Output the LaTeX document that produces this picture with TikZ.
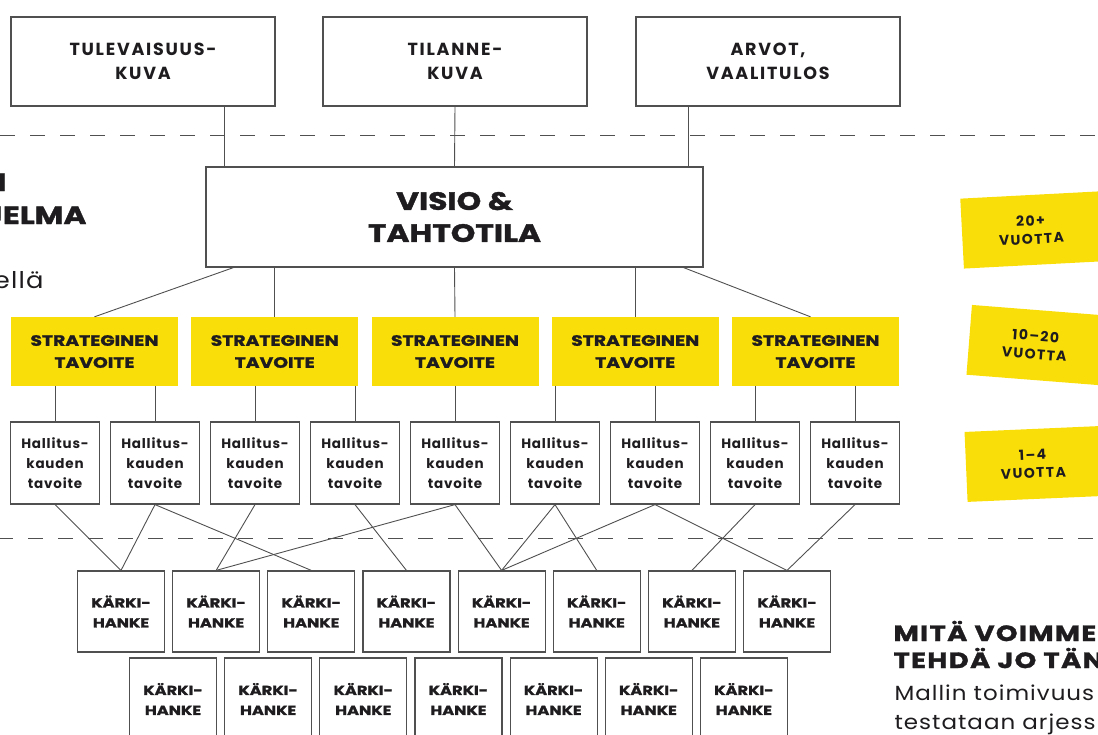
\documentclass[tikz,border=0pt]{standalone}
\usepackage{fontspec}
\setmainfont{Poppins}
\newfontfamily\heavyfont{Poppins}[FakeStretch=1.25, BoldFeatures={FakeBold=1.5}]
\newfontfamily\widefont{Poppins}[FakeStretch=1.12, LetterSpace=5]
\usetikzlibrary{positioning}
\definecolor{tagyellow}{RGB}{249,222,10}
\definecolor{linegray}{RGB}{80,80,80}
\definecolor{inkblack}{RGB}{30,28,30}

\begin{document}
\begin{tikzpicture}[x=1pt, y=-1pt, text=inkblack,
	box/.style={draw=linegray, line width=1.2pt, align=center, inner sep=0pt},
	topbox/.style={box, minimum width=264pt, minimum height=89pt, font=\bfseries\fontsize{17.5}{24}\selectfont\addfontfeature{LetterSpace=10}},
	visiobox/.style={box, minimum width=497pt, minimum height=100pt, font=\heavyfont\bfseries\fontsize{25}{32}\selectfont},
	goal/.style={fill=tagyellow, align=center, inner sep=0pt, minimum width=167pt, minimum height=69pt, font=\heavyfont\bfseries\fontsize{15}{22}\selectfont},
	termbox/.style={box, minimum width=89pt, minimum height=82pt, font=\bfseries\fontsize{13.5}{20}\selectfont\addfontfeature{LetterSpace=6}},
	hanke/.style={box, minimum width=87pt, minimum height=81pt, font=\heavyfont\bfseries\fontsize{13}{20}\selectfont},
	tag/.style={fill=tagyellow, align=center, inner sep=0pt, minimum height=70pt, font=\bfseries\fontsize{14}{18}\selectfont\addfontfeature{LetterSpace=10}},
	link/.style={draw=linegray, line width=0.9pt},
	divider/.style={draw=linegray, line width=1pt, dash pattern=on 15pt off 15pt}]
	\useasboundingbox (0,0) rectangle (1098,734);

	\draw[divider] (0,135) -- (1098,135);
	\draw[divider, dash phase=2pt] (0,538) -- (1098,538);

	\node[topbox] (top-0) at (143,61.5) {TULEVAISUUS-\\KUVA};
	\node[topbox] (top-1) at (455,61.5) {TILANNE-\\KUVA};
	\node[topbox] (top-2) at (768,61.5) {ARVOT,\\VAALITULOS};

	\node[visiobox] (visio) at (454.5,217) {VISIO \&\\TAHTOTILA};

	\foreach \i in {0,...,4}
		\node[goal] (s-\i) at (94.5+180.25*\i,351.5) {STRATEGINEN\\TAVOITE};
	\foreach \i in {0,...,8}
		\node[termbox] (h-\i) at (55+100*\i,463) {Hallitus-\\kauden\\tavoite};
	\foreach \i in {0,...,7}
		\node[hanke] (k-\i) at (121+95.15*\i,611.5) {KÄRKI-\\HANKE};
	\foreach \i in {0,...,6}
		\node[hanke, minimum height=82pt] (kk-\i) at (173+95.15*\i,699) {KÄRKI-\\HANKE};

	\draw[link] ([xshift=81pt]top-0.south) -- ([xshift=81pt]top-0.south |- visio.north);
	\draw[link] (top-1.south) -- (visio.north);
	\draw[link] ([xshift=-80pt]top-2.south) -- ([xshift=-80pt]top-2.south |- visio.north);

	\draw[link] ([xshift=28pt]visio.south west) -- (s-0.north);
	\draw[link] (s-1.north |- visio.south) -- (s-1.north);
	\draw[link] (visio.south) -- (s-2.north);
	\draw[link] (s-3.north |- visio.south) -- (s-3.north);
	\draw[link] ([xshift=-20pt]visio.south east) -- ([xshift=-5pt]s-4.north);

	\foreach \a/\b in {0/0,1/0,2/1,3/1,4/2,5/3,6/3,7/4,8/4}
		\draw[link] (h-\a.north |- s-\b.south) -- (h-\a.north);
	\foreach \a/\b in {0/0,1/0,1/2,2/1,4/1,3/3,4/4,5/4,5/5,6/4,6/7,7/6,8/7}
		\draw[link] (h-\a.south) -- (k-\b.north);

	\node[tag, rotate=3, minimum width=138pt] (tag-0) at (1031,230) {20+\\VUOTTA};
	\node[tag, rotate=-4.5, minimum width=132pt] (tag-1) at (1035,345) {10–20\\VUOTTA};
	\node[tag, rotate=2.5, minimum width=134pt] (tag-2) at (1033,464) {1–4\\VUOTTA};

	\node[anchor=base east, font=\heavyfont\bfseries\fontsize{25}{32}\selectfont] (side-0) at (10,191) {N};
	\node[anchor=base east, font=\heavyfont\bfseries\fontsize{25}{32}\selectfont] (side-1) at (90,224) {JELMA};
	\node[anchor=base east, font=\widefont\fontsize{23}{28}\selectfont] (side-2) at (47,288) {ellä};

	\node[anchor=base west, font=\heavyfont\bfseries\fontsize{22}{29}\selectfont\addfontfeature{LetterSpace=6}] (note-0) at (890,641) {MITÄ VOIMME};
	\node[anchor=base west, font=\heavyfont\bfseries\fontsize{22}{29}\selectfont\addfontfeature{LetterSpace=6}] (note-1) at (890,668) {TEHDÄ JO TÄN};
	\node[anchor=base west, font=\widefont\fontsize{20.5}{28}\selectfont] (note-2) at (891,700) {Mallin toimivuus};
	\node[anchor=base west, font=\widefont\fontsize{20.5}{28}\selectfont] (note-3) at (891,729) {testataan arjess};
\end{tikzpicture}
\end{document}
